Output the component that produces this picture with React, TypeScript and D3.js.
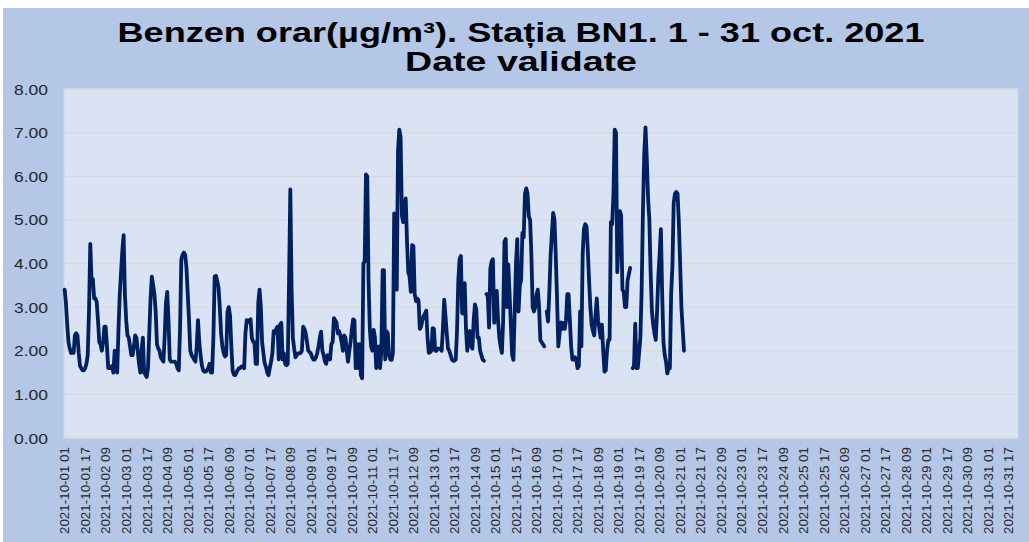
import React from "react";
import * as d3 from "d3";

const TITLE_1 = "Benzen orar(µg/m³). Stația BN1. 1 - 31 oct. 2021";
const TITLE_2 = "Date validate";

const Y_TICKS = [0, 1, 2, 3, 4, 5, 6, 7, 8];

const TICK_LABELS = [
  "2021-10-01 01", "2021-10-01 17", "2021-10-02 09", "2021-10-03 01", "2021-10-03 17", "2021-10-04 09",
  "2021-10-05 01", "2021-10-05 17", "2021-10-06 09", "2021-10-07 01", "2021-10-07 17", "2021-10-08 09",
  "2021-10-09 01", "2021-10-09 17", "2021-10-10 09", "2021-10-11 01", "2021-10-11 17", "2021-10-12 09",
  "2021-10-13 01", "2021-10-13 17", "2021-10-14 09", "2021-10-15 01", "2021-10-15 17", "2021-10-16 09",
  "2021-10-17 01", "2021-10-17 17", "2021-10-18 09", "2021-10-19 01", "2021-10-19 17", "2021-10-20 09",
  "2021-10-21 01", "2021-10-21 17", "2021-10-22 09", "2021-10-23 01", "2021-10-23 17", "2021-10-24 09",
  "2021-10-25 01", "2021-10-25 17", "2021-10-26 09", "2021-10-27 01", "2021-10-27 17", "2021-10-28 09",
  "2021-10-29 01", "2021-10-29 17", "2021-10-30 09", "2021-10-31 01", "2021-10-31 17",
];

// hourly values (hour 01..24) per day; null = missing
const day01 = [3.4, 3.1, 2.6, 2.2, 2.05, 1.95, 2.0, 1.95, 2.35, 2.4, 2.35, 1.95, 1.65, 1.6, 1.55, 1.55, 1.6, 1.7, 1.9, 2.9, 4.45, 3.6, 3.65, 3.2];
const day02 = [3.2, 3.12, 2.7, 2.2, 2.15, 2.0, 2.2, 2.55, 2.55, 2.1, 1.6, 1.6, 1.6, 1.65, 1.5, 2.0, 1.55, 1.5, 2.5, 3.3, 3.8, 4.3, 4.65, 3.3];
const day03 = [2.7, 2.35, 2.3, 2.1, 1.9, 1.9, 2.1, 2.35, 2.3, 2.0, 1.7, 1.5, 2.0, 2.3, 1.5, 1.45, 1.4, 1.6, 2.4, 3.2, 3.7, 3.5, 3.3, 2.9];
const day04 = [2.15, 2.05, 2.0, 1.85, 1.8, 1.75, 2.3, 3.1, 3.35, 2.7, 1.8, 1.75, null, 1.75, 1.75, 1.7, 1.6, 1.55, 2.5, 4.1, 4.2, 4.25, 4.2, 3.9];
const day05 = [3.3, 2.7, 2.0, 1.9, 1.85, 1.8, 1.75, 2.1, 2.7, 2.2, 1.9, 1.67, 1.55, 1.52, 1.52, 1.55, 1.6, 1.7, 1.5, 1.5, 2.3, 3.7, 3.72, 3.6];
const day06 = [3.45, 3.0, 2.4, 2.1, 1.95, 1.87, 1.9, 2.9, 3.0, 2.8, 2.1, 1.55, 1.45, 1.44, 1.5, 1.56, 1.6, 1.6, 1.64, 1.65, 1.6, 2.4, 2.7, 2.65];
const day07 = [2.7, 2.72, 2.3, 2.2, 2.2, 1.7, 1.7, 3.1, 3.4, 3.0, 2.2, 1.95, 1.71, 1.63, 1.5, 1.44, 1.6, 1.75, 1.94, 2.45, 2.4, 2.5, 2.55, 1.8];
const day08 = [2.6, 2.64, 1.8, 1.94, 1.7, 1.67, 1.7, 3.6, 5.7, 3.4, 2.3, 2.05, 1.85, 1.9, 1.94, 1.94, 1.95, 2.0, 2.55, 2.5, 2.4, 2.2, 2.0, 1.97];
const day09 = [1.94, 1.85, 1.8, 1.8, 1.85, 1.95, 2.1, 2.3, 2.44, 2.0, 1.9, 1.75, 1.7, 1.9, 1.85, 1.8, 2.15, 2.2, 2.75, 2.7, 2.65, 2.4, 2.45, 2.35];
const day10 = [2.2, 2.0, 2.35, 2.3, 2.0, 1.75, 2.0, 2.2, 2.5, 2.72, 2.7, 1.6, 2.15, 1.6, 2.15, 1.44, 1.37, 4.0, 4.05, 6.04, 6.0, 3.6, 2.5, 2.1];
const day11 = [2.0, 2.48, 2.3, 1.6, 1.9, 2.1, 1.6, 2.0, 3.85, 3.85, 1.8, 2.45, 2.4, 1.9, 1.8, 1.79, 1.95, 5.15, 5.1, 3.4, 6.6, 7.07, 6.9, 5.1];
const day12 = [4.95, 5.3, 5.49, 4.5, 3.8, 3.7, 3.35, 4.42, 4.4, 3.3, 3.14, 3.2, 3.15, 2.5, 2.55, 2.7, 2.8, 2.85, 2.92, 2.3, 1.95, 1.97, 2.0, 2.52];
const day13 = [2.5, 2.0, 2.0, 2.05, 2.05, 2.05, 2.0, 2.5, 3.17, 2.8, 2.4, 2.05, 2.0, 1.9, 1.8, 1.77, 1.77, 1.8, 2.45, 3.6, 4.1, 4.17, 2.86, 2.85];
const day14 = [3.55, 2.5, 2.0, 2.4, 2.45, 2.1, 2.05, 2.7, 3.06, 2.95, 2.3, 2.3, 2.0, 1.9, 1.8, 1.77, null, 3.3, 3.25, 2.53, 3.89, 4.05, 4.1, 2.64];
const day15 = [3.2, 3.37, 2.7, 2.3, 2.1, 1.95, 2.7, 4.5, 4.56, 3.0, 3.98, 3.3, 2.6, 1.9, 1.79, 2.9, 4.0, 4.56, 2.9, 3.5, 3.62, 4.7, 4.6, 5.6];
const day16 = [5.72, 5.6, 5.08, 5.0, 4.2, 3.0, 2.9, 3.0, 3.28, 3.4, 3.0, 2.24, 2.2, 2.15, 2.1, null, 2.9, 2.67, 3.35, 4.2, 4.7, 5.16, 5.0, 4.2];
const day17 = [3.2, 2.1, 2.4, 2.65, 2.5, 2.64, 2.5, 2.7, 3.3, 3.3, 2.7, 2.1, 1.8, 1.8, 1.85, 1.8, 1.6, 1.65, 2.9, 2.1, 4.2, 4.8, 4.9, 4.85];
const day18 = [4.3, 3.6, 3.0, 2.6, 2.45, 2.35, 2.8, 3.2, 2.7, 2.5, 2.3, 2.6, 2.0, 1.52, 1.55, 2.0, 2.25, 2.25, 4.95, 4.9, 5.6, 7.07, 7.0, 3.8];
const day19 = [4.5, 5.2, 5.1, 3.4, 3.35, 3.0, 3.0, 3.6, 3.75, 3.9, null, 1.6, 1.65, 2.62, 1.6, 1.6, 1.95, 2.3, 3.4, 5.2, 6.5, 7.12, 6.4, 5.5];
const day20 = [5.0, 3.8, 2.9, 2.6, 2.4, 2.25, 2.9, 3.7, 4.2, 4.79, 3.3, 2.2, 1.9, 1.75, 1.48, 1.6, 1.6, 3.3, 3.95, 5.4, 5.6, 5.64, 5.6, 4.95];
const day21 = [4.0, 3.0, 2.5, 2.0];

const DAYS = 31;
const HOURS = 24;

const pad2 = (n: number) => String(n).padStart(2, "0");
const categories: string[] = [];
for (let d = 1; d <= DAYS; d++) {
  for (let h = 1; h <= HOURS; h++) categories.push(`2021-10-${pad2(d)} ${pad2(h)}`);
}

const measured: (number | null)[] = [
  ...day01, ...day02, ...day03, ...day04, ...day05, ...day06, ...day07,
  ...day08, ...day09, ...day10, ...day11, ...day12, ...day13, ...day14,
  ...day15, ...day16, ...day17, ...day18, ...day19, ...day20, ...day21,
];

const series = categories.map((c, i) => ({ c, v: i < measured.length ? measured[i] : null }));

const W = 1029;
const H = 542;
const PLOT = { left: 64, right: 1018, top: 89, bottom: 438 };
const FONT = "'Liberation Sans', Arial, sans-serif";

export default function App() {
  const x = d3.scaleBand<string>().domain(categories).range([PLOT.left, PLOT.right]).padding(0);
  const y = d3.scaleLinear().domain([0, 8]).range([PLOT.bottom, PLOT.top]);
  const cx = (c: string) => (x(c) as number) + x.bandwidth() / 2;

  const line = d3
    .line<{ c: string; v: number | null }>()
    .defined((d) => d.v != null)
    .x((d) => cx(d.c))
    .y((d) => y(d.v as number));

  return (
    <div style={{ position: "absolute", left: 0, top: 0 }}>
      <svg width={W} height={H} style={{ display: "block" }} fontFamily={FONT}>
        <rect x={0} y={0} width={W} height={H} fill="#ffffff" />
        <rect x={3} y={8} width={W - 3} height={H - 8} fill="#B4C7E7" />
        <rect
          x={PLOT.left}
          y={PLOT.top}
          width={PLOT.right - PLOT.left}
          height={PLOT.bottom - PLOT.top}
          fill="#DAE3F3"
          stroke="#D0D6E0"
          strokeWidth={1}
        />
        {Y_TICKS.map((t) => (
          <line
            key={"g" + t}
            x1={PLOT.left}
            x2={PLOT.right}
            y1={y(t)}
            y2={y(t)}
            stroke="#D9D9D9"
            strokeWidth={1.3}
          />
        ))}
        {Y_TICKS.map((t) => (
          <text
            key={"yl" + t}
            x={48}
            y={y(t)}
            dy="0.36em"
            textAnchor="end"
            fontSize={15.5}
            textLength={34}
            lengthAdjust="spacingAndGlyphs"
            fill="#262626"
          >
            {d3.format(".2f")(t)}
          </text>
        ))}
        {TICK_LABELS.map((lab) => (
          <text
            key={lab}
            transform={`translate(${cx(lab) + 4.8},${447}) rotate(-90)`}
            textAnchor="end"
            fontSize={13}
            textLength={87}
            lengthAdjust="spacingAndGlyphs"
            fill="#262626"
          >
            {lab}
          </text>
        ))}
        <path
          d={line(series) || ""}
          fill="none"
          stroke="#002060"
          strokeWidth={3.8}
          strokeLinejoin="round"
          strokeLinecap="round"
        />
        <text
          x={521}
          y={42}
          textAnchor="middle"
          fontSize={28}
          fontWeight="bold"
          fill="#000"
          textLength={807}
          lengthAdjust="spacingAndGlyphs"
        >
          {TITLE_1}
        </text>
        <text
          x={521}
          y={71}
          textAnchor="middle"
          fontSize={28}
          fontWeight="bold"
          fill="#000"
          textLength={232}
          lengthAdjust="spacingAndGlyphs"
        >
          {TITLE_2}
        </text>
      </svg>
    </div>
  );
}
